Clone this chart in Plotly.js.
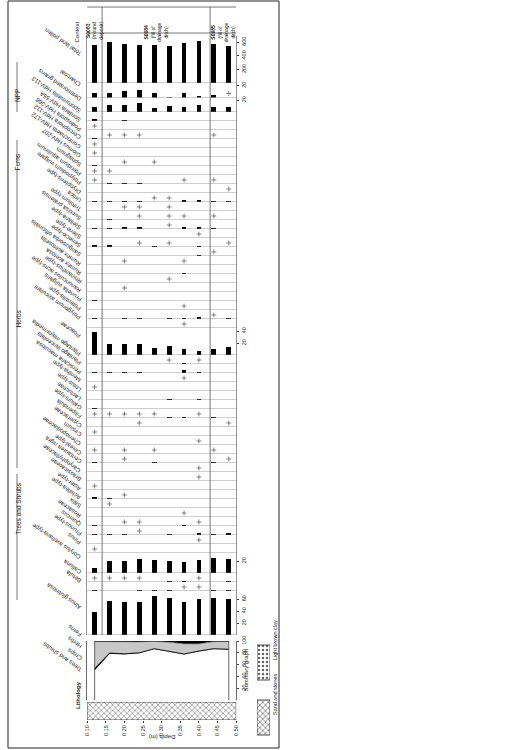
<!DOCTYPE html>
<html><head><meta charset="utf-8">
<script src="https://cdn.plot.ly/plotly-3.0.1.min.js"></script>
<style>body{margin:0;background:#fff}#chart{width:510px;height:750px}</style>
</head><body><div id="chart"></div>
<script>
// ---------------- DATA ----------------
const depths = [0.12,0.16,0.20,0.24,0.28,0.32,0.36,0.40,0.44,0.48];
// values in % (TLP in grains); null = absent; values < 0.5 shown as "+"
const tlpName = 'Total land pollen';
const tlpValues = [560,600,565,560,555,545,580,610,570,545];

const nppNames = ['Charcoal','Deteriorated grains','Sporormiella HdV-113','Sordaria HdV-55A','Podospora HdV-368','Cercophora HdV-112','Coniochaeta HdV-172','Glomus HdV-207'];
const nppValues = [
 [6.7,7.8,11,13.3,7.8,1.5,6.7,2,3.5,0.3],
 [8,11.8,11.8,14.5,7,9.7,8.5,11,9,9],
 [3.5,null,1,null,null,null,null,null,null,null],
 [0.3,null,null,null,null,null,null,null,null,null],
 [1,0.3,0.3,0.3,null,null,null,null,0.3,null],
 [0.3,null,null,null,null,null,null,null,null,null],
 [0.3,null,null,null,null,null,null,null,null,null],
 [1,null,0.3,null,0.3,null,null,null,null,null]
];
const fernNames = ['Sphagnum','Pteridium aquilinum','Polypodium vulgare','Dryopteris-type'];
const fernValues = [
 [0.3,0.3,null,null,null,null,null,null,null,null],
 [0.3,1,1,1,null,null,0.3,null,0.3,null],
 [null,null,null,null,null,null,null,null,null,0.3],
 [1,1.5,1.5,1.5,0.3,0.3,3.5,4,1,1]
];
const herbNames = ['Urtica','Trifolium-type','Succisa pratensis','Stellaria-type','Silene-type','Senecio-type','Sanguisorba officinalis','Rumex acetosella','Rumex acetosa','Rhinanthus-type','Ranunculus acris-type','Prunella vulgaris','Potentilla-type','Polygonum aviculare','Poaceae','Plantago major/media','Plantago lanceolata','Persicaria maculosa','Mentha-type','Lotus-type','Lactuceae','Galium-type','Filipendula','Cyperaceae','Cirsium','Chenopodiaceae','Cereal-type','Centaurea nigra','Caryophyllaceae','Brassicaceae','Aster-type','Achillea-type'];
const herbValues = [
 [null,null,0.3,0.3,null,0.3,null,null,null,null],
 [null,1,null,0.3,null,0.3,0.3,null,0.3,null],
 [1,1,3,3,null,0.3,3.5,3.5,1,null],
 [null,null,null,null,null,null,null,0.3,null,null],
 [3,3,null,0.3,1,0.3,null,1,null,0.3],
 [null,null,null,null,null,null,null,1,0.3,null],
 [null,null,0.3,null,null,null,0.3,null,null,null],
 [null,null,null,null,null,null,1,null,null,null],
 [null,null,null,null,null,0.3,null,null,null,null],
 [null,null,0.3,null,null,null,null,null,null,null],
 [1,null,null,null,null,null,null,null,null,null],
 [null,null,null,null,null,null,0.3,null,null,null],
 [1,null,1,1,null,1,2.5,3,0.3,1],
 [null,null,null,null,null,null,0.3,null,null,null],
 [39,19,19,18,12,15.5,9.5,6.7,9.5,13],
 [null,null,null,null,null,0.3,2,0.3,null,null],
 [1,1,1,1,null,null,5,1,null,null],
 [null,null,null,null,null,null,0.3,null,null,null],
 [0.3,null,null,null,null,null,null,null,null,null],
 [null,null,null,null,null,1,null,1,null,null],
 [1,null,null,null,null,null,null,null,null,null],
 [0.3,0.3,0.3,0.3,0.3,1,1,0.3,1,null],
 [null,null,null,0.3,null,null,null,null,null,0.3],
 [0.3,null,null,null,null,null,null,null,null,null],
 [null,null,null,null,null,null,null,0.3,null,null],
 [0.3,null,0.3,null,0.3,null,null,null,0.3,null],
 [1,null,0.3,null,1,null,null,null,1,0.3],
 [null,null,null,null,null,null,null,0.3,null,null],
 [null,null,null,null,null,null,null,0.3,null,null],
 [0.3,null,null,null,null,null,null,null,null,null],
 [3.5,1,0.3,null,null,null,null,null,null,null],
 [null,0.3,null,null,null,null,null,null,null,null]
];
const treeNames = ['Salix','Rosaceae','Quercus','Prunus-type','Pinus','Corylus avellana-type','Calluna','Betula','Alnus glutinosa'];
const treeValues = [
 [null,null,null,null,null,null,0.3,null,null,null],
 [1,null,0.3,0.3,null,null,1,0.3,null,null],
 [1,1,1,0.3,null,1,null,3,1,3],
 [null,null,null,null,null,null,null,0.3,null,null],
 [0.3,null,null,null,null,null,null,null,null,null],
 [9,20,20,24,21,20,18,22,25.5,23],
 [0.3,0.3,0.3,0.3,null,1,2.5,0.3,null,1],
 [1,null,null,1,1,1,0.3,0.3,1,2.5],
 [39,57,55.5,54.5,65.5,61,55.5,59.5,62,59.5]
];
// summary graph (%)
const sumNames = ['Trees and shrubs','Crops','Herbs','Ferns'];
const sumTrees = [51,79,78,80,87,83,78,83,87,86];
const sumCrops = [2.5,0.6,0.3,0,0,0,0,0,0,0];
const sumHerbs = [45.5,18.9,20.2,18.5,12.5,15,17,12,12,13];
const sumFerns = [1,1.5,1.5,1.5,0.5,2,5,5,1,1];
// contexts
const ctxCodes = ['S0083','S0084','S0085'];
const ctxDesc = ['(mound<br>deposit)','(fill of<br>drainage<br>ditch)','(fill of<br>drainage<br>ditch)'];
const ctxTop = [0.10,0.14,0.43];
const ctxBottom = [0.14,0.43,0.50];
// lithology
const lithTop = [0.10];
const lithBottom = [0.50];
const lithUnit = ['Sand and stones'];
const legendUnits = ['Light brown clay','Sand and stones'];

// ---------------- LAYOUT HELPERS ----------------
const W = 510, H = 750;
const X0 = 87.2, X1 = 236.2;
const fx = p => p / W, fy = p => 1 - p / H;
const PX_PER_PCT = 0.6;
const FONT = 'Liberation Sans, Arial, sans-serif';
const TXT = '#1a1a1a';
const LABEL_ANGLE = -145;
const wide = {
  'Total land pollen': {h:47, ticks:[200,400,600], max:47/41*600},
  'Charcoal': {h:14.5, ticks:[20]},
  'Deteriorated grains': {h:14.5, ticks:[20]},
  'Poaceae': {h:27, ticks:[20,40]},
  'Corylus avellana-type': {h:20, ticks:[20]},
  'Alnus glutinosa': {h:44, ticks:[20,40,60]}
};
const rows = [];
rows.push({name:tlpName, vals:tlpValues, group:null});
nppNames.forEach((n,i)=>rows.push({name:n, vals:nppValues[i], group:'NPP'}));
fernNames.forEach((n,i)=>rows.push({name:n, vals:fernValues[i], group:'Ferns'}));
herbNames.forEach((n,i)=>rows.push({name:n, vals:herbValues[i], group:'Herbs'}));
treeNames.forEach((n,i)=>rows.push({name:n, vals:treeValues[i], group:'Trees and Shrubs'}));

const layout = {
  width: W, height: H, margin:{l:0,r:0,t:0,b:0}, showlegend:false,
  paper_bgcolor:'#fff', plot_bgcolor:'rgba(0,0,0,0)', font:{family:FONT, size:6, color:TXT},
  bargap:0, barmode:'overlay',
  xaxis: {domain:[fx(X0), fx(X1)], range:[0.10,0.50], anchor:'y', showgrid:false, zeroline:false,
    showline:false, ticks:'outside', ticklen:2, tickcolor:'#333',
    tickvals:[0.10,0.15,0.20,0.25,0.30,0.35,0.40,0.45,0.50],
    ticktext:['0.10','0.15','0.20','0.25','0.30','0.35','0.40','0.45','0.50'],
    tickangle:-90, tickfont:{size:5.5, family:FONT, color:TXT}, fixedrange:true},
  shapes: [], annotations: []
};
const traces = [];

let yCur = 36;
const rowPos = {};
rows.forEach((r, i) => {
  const w = wide[r.name];
  const h = w ? w.h : 9;
  const top = yCur, bot = yCur + h; yCur = bot;
  rowPos[r.name] = {top, bot};
  const n = i + 3;
  const ref = 'y' + n;
  const maxV = w && w.max ? w.max : h / PX_PER_PCT;
  const unitsPerPx = maxV / h;
  layout['yaxis' + n] = {
    domain:[fy(bot), fy(top)], range:[0, maxV], anchor:'x', showgrid:false, zeroline:false,
    showline:true, linecolor:'#666', linewidth:0.7, mirror:true, side:'right',
    ticks: w ? 'outside' : '', ticklen:2, tickcolor:'#333', tickvals: w ? w.ticks : [],
    showticklabels: !!w, tickangle:-90, tickfont:{size:5.5, family:FONT, color:TXT}, fixedrange:true
  };
  const bx = [], by = [], px = [], py = [];
  r.vals.forEach((v, k) => {
    if (v === null) return;
    if (v < 0.5) { px.push(depths[k]); py.push(4 * unitsPerPx); }
    else { bx.push(depths[k]); by.push(v); }
  });
  traces.push({type:'bar', x:bx, y:by, xaxis:'x', yaxis:ref, width:0.013,
    marker:{color:'#000', line:{width:0}}, hoverinfo:'skip'});
  if (px.length) traces.push({type:'scatter', mode:'markers', x:px, y:py, xaxis:'x', yaxis:ref,
    marker:{symbol:'cross-thin', size:3.5, line:{width:0.7, color:'#555'}}, hoverinfo:'skip', cliponaxis:false});
  layout.shapes.push({type:'line', xref:'x', yref:ref, x0:0.10, x1:0.50, y0:0, y1:0, line:{color:'#777', width:0.7}});
  layout.annotations.push({text:r.name, xref:'paper', yref:'paper', x:fx(85), y:fy((top+bot)/2),
    xanchor:'right', yanchor:'bottom', showarrow:false, textangle:LABEL_ANGLE,
    font:{size:6, family:FONT, color:TXT}});
});

// summary graph
const SUM_TOP = 641, SUM_BOT = 700;
layout['yaxis2'] = {domain:[fy(SUM_BOT), fy(SUM_TOP)], range:[0,100], anchor:'x', showgrid:false, zeroline:false,
  showline:true, linecolor:'#444', linewidth:0.8, mirror:true, side:'right', ticks:'outside', ticklen:2,
  tickvals:[20,40,60,80,100], tickangle:-90, tickfont:{size:5.5, family:FONT, color:TXT}, fixedrange:true};
const sumSeries = [
  {v:sumTrees, fill:'#fff', line:'#000'},
  {v:sumCrops, fill:'#000', line:'#000'},
  {v:sumHerbs, fill:'#c8c8c8', line:'#888'},
  {v:sumFerns, fill:'#000', line:'#000'}
];
sumSeries.forEach(s => traces.push({type:'scatter', mode:'lines', x:depths, y:s.v, xaxis:'x', yaxis:'y2',
  stackgroup:'sum', fillcolor:s.fill, line:{color:s.line, width:0.8}, hoverinfo:'skip'}));
layout.shapes.push({type:'line', xref:'x', yref:'y2', x0:depths[0], x1:depths[0], y0:0, y1:100, line:{color:'#444', width:0.8}});
layout.shapes.push({type:'line', xref:'x', yref:'y2', x0:depths[depths.length-1], x1:depths[depths.length-1], y0:0, y1:100, line:{color:'#444', width:0.8}});
const sumLabelPx = [676, 664, 652, 640];
sumNames.forEach((t,i) => layout.annotations.push({text:t, xref:'paper', yref:'paper', x:fx(86), y:fy(sumLabelPx[i]),
  xanchor:'right', yanchor:'bottom', showarrow:false, textangle:LABEL_ANGLE, font:{size:6, family:FONT, color:TXT}}));
layout.annotations.push({text:'Summary graph', xref:'paper', yref:'y2', x:fx(245), y:50, showarrow:false,
  textangle:-90, font:{size:6, family:FONT, color:TXT}});

// lithology
const LITH_TOP = 702, LITH_BOT = 720;
layout['yaxis'] = {domain:[fy(LITH_BOT), fy(LITH_TOP)], range:[0,1], anchor:'x', showgrid:false, zeroline:false,
  showline:false, showticklabels:false, ticks:'', fixedrange:true};
traces.push({type:'bar', x:lithTop.map((t,i)=>(t+lithBottom[i])/2), y:lithTop.map(()=>1),
  width:lithTop.map((t,i)=>lithBottom[i]-t), xaxis:'x', yaxis:'y',
  marker:{color:'#fff', line:{color:'#222', width:0.8}, pattern:{shape:'x', fgcolor:'#666', size:4, solidity:0.25}}, hoverinfo:'skip'});
layout.annotations.push({text:'<b>Lithology</b>', xref:'paper', yref:'paper', x:fx(83), y:fy((LITH_TOP+LITH_BOT)/2),
  xanchor:'right', showarrow:false, textangle:-90, font:{size:6, family:FONT, color:TXT}});
layout.annotations.push({text:'Depth (m)', xref:'x', yref:'paper', x:0.30, y:fy(742), showarrow:false,
  textangle:180, font:{size:6, family:FONT, color:TXT}});

// context header
const HDR_TOP = 7, HDR_BOT = 33;
layout.shapes.push({type:'line', xref:'x', yref:'paper', x0:0.10, x1:0.50, y0:fy(HDR_TOP), y1:fy(HDR_TOP), line:{color:'#555', width:0.8}});
layout.shapes.push({type:'line', xref:'x', yref:'paper', x0:0.10, x1:0.50, y0:fy(HDR_BOT), y1:fy(HDR_BOT), line:{color:'#555', width:0.8}});
ctxCodes.forEach((c,i) => {
  if (i > 0) layout.shapes.push({type:'line', xref:'x', yref:'paper', x0:ctxTop[i], x1:ctxTop[i], y0:fy(635), y1:fy(HDR_TOP), line:{color:'#555', width:0.8}});
  layout.annotations.push({text:'<b>'+c+'</b><br>'+ctxDesc[i], xref:'x', yref:'paper', x:(ctxTop[i]+ctxBottom[i])/2, y:fy((HDR_TOP+HDR_BOT)/2),
    showarrow:false, textangle:-90, font:{size:5, family:FONT, color:TXT}});
});
layout.annotations.push({text:'Context', xref:'paper', yref:'paper', x:fx(72), y:fy(20), showarrow:false, textangle:-90, font:{size:6, family:FONT, color:TXT}});

// group brackets (vertical extent in px, as drawn at the left edge)
const groups = ['NPP','Ferns','Herbs','Trees and Shrubs'];
const groupSpan = [[62,112],[140,163],[170,468],[474,600]];
groups.forEach((g, i) => {
  const [a, b] = groupSpan[i];
  layout.shapes.push({type:'line', xref:'paper', yref:'paper', x0:fx(17), x1:fx(17), y0:fy(a), y1:fy(b), line:{color:'#555', width:0.8}});
  layout.annotations.push({text:g, xref:'paper', yref:'paper', x:fx(12), y:fy((a+b)/2), showarrow:false, textangle:-90, font:{size:6.5, family:FONT, color:TXT}});
});

// legend boxes
layout.xaxis2 = {domain:[fx(257), fx(270)], range:[0,1], anchor:'y99', visible:false, fixedrange:true};
layout.yaxis99 = {domain:[fy(740), fy(640)], range:[740,640], anchor:'x2', visible:false, fixedrange:true};
const legPos = [[645, 35, '.'], [700, 35, 'x']];
legendUnits.forEach((t, i) => {
  const [y0, hgt, pat] = legPos[i];
  traces.push({type:'bar', x:[0.5], y:[hgt], base:[y0], width:[1], xaxis:'x2', yaxis:'y99',
    marker:{color:'#fff', line:{color:'#222', width:0.8}, pattern:{shape:pat, fgcolor:'#666', size:4, solidity:0.3}}, hoverinfo:'skip'});
  layout.annotations.push({text:t, xref:'paper', yref:'paper', x:fx(274.5), y:fy(y0 + hgt/2), showarrow:false, textangle:-90, font:{size:5.5, family:FONT, color:TXT}});
});

// frame
layout.shapes.push({type:'rect', xref:'paper', yref:'paper', x0:fx(8), x1:fx(279), y0:fy(748), y1:fy(1), line:{color:'#222', width:1}});

Plotly.newPlot('chart', traces, layout, {staticPlot:true, displayModeBar:false});
</script></body></html>
